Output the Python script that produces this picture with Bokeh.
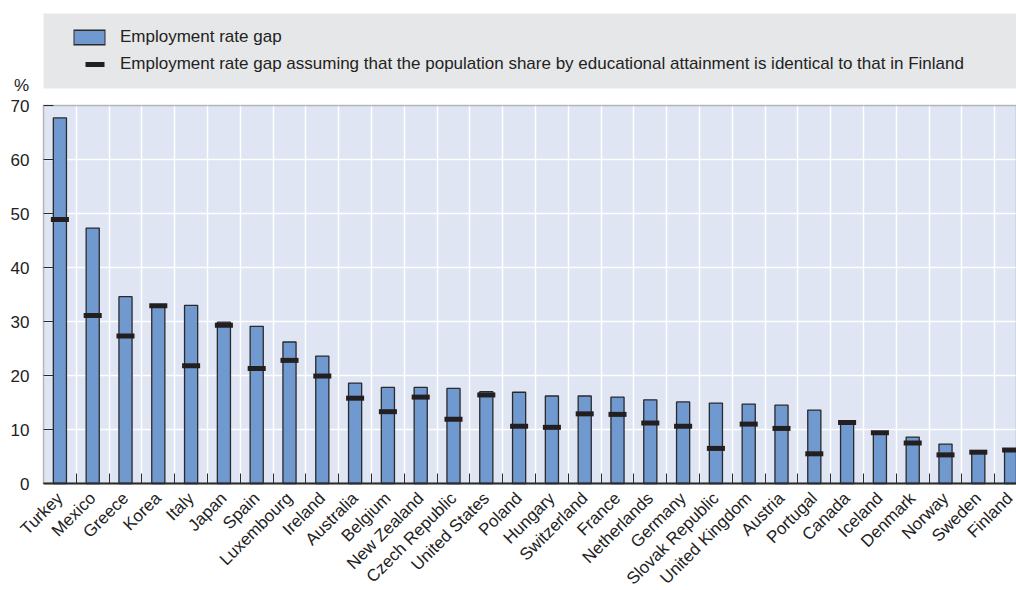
from bokeh.plotting import figure
from bokeh.models import (ColumnDataSource, Range1d, FixedTicker, Legend, LegendItem,
                          Label, BoxAnnotation)
from bokeh.embed import file_html
from bokeh.resources import INLINE
import math

countries = ["Turkey", "Mexico", "Greece", "Korea", "Italy", "Japan", "Spain", "Luxembourg",
             "Ireland", "Australia", "Belgium", "New Zealand", "Czech Republic", "United States",
             "Poland", "Hungary", "Switzerland", "France", "Netherlands", "Germany",
             "Slovak Republic", "United Kingdom", "Austria", "Portugal", "Canada", "Iceland",
             "Denmark", "Norway", "Sweden", "Finland"]
gap = [67.7, 47.3, 34.6, 32.7, 33.0, 29.9, 29.1, 26.2, 23.6, 18.6, 17.8, 17.8, 17.6, 17.0,
       16.9, 16.2, 16.2, 16.0, 15.5, 15.1, 14.9, 14.7, 14.5, 13.6, 11.1, 9.3, 8.6, 7.3, 6.0, 6.2]
gap_finland_structure = [48.9, 31.1, 27.3, 32.9, 21.8, 29.3, 21.3, 22.8, 19.9, 15.8, 13.3, 16.0,
                         11.9, 16.4, 10.6, 10.4, 12.9, 12.8, 11.2, 10.6, 6.5, 11.0, 10.2, 5.5,
                         11.3, 9.4, 7.5, 5.3, 5.8, 6.2]
y_ticks = [0, 10, 20, 30, 40, 50, 60, 70]
label_gap = "Employment rate gap"
label_fin = ("Employment rate gap assuming that the population share by educational "
             "attainment is identical to that in Finland")

FONT = "Liberation Sans"
TXT = "#222222"
DARK = "#2a2a2a"
BAR = "#7099d0"
MARK = "#231f20"
PLOT_BG = "#dfe5f3"
LEG_BG = "#e6e7e8"

n = len(countries)
idx = list(range(n))
src = ColumnDataSource(dict(x=idx, gap=gap, fin=gap_finland_structure, name=countries))

# the frame covers the whole figure; the chart panel starts at x=-0.5, y=0
PX_PER_CAT = 32.8
PX_PER_UNIT = 5.4
x0 = -0.5 - 43 / PX_PER_CAT
x1 = -0.5 + (1016 - 43) / PX_PER_CAT
y0 = -(590 - 483) / PX_PER_UNIT
y1 = 483 / PX_PER_UNIT
p = figure(width=1016, height=590, output_backend="svg", toolbar_location=None,
           x_range=Range1d(x0, x1), y_range=Range1d(y0, y1),
           min_border_left=0, min_border_right=0, min_border_top=0, min_border_bottom=0)
p.background_fill_color = "white"
p.border_fill_color = "white"
p.outline_line_color = None

# plot-area background (drawn beneath the grid)
p.add_layout(BoxAnnotation(left=-0.5, bottom=0, top=70, fill_color=PLOT_BG, fill_alpha=1,
                           line_color=None, level="image"))

bars = p.vbar(x="x", top="gap", width=0.4, source=src, fill_color=BAR,
              line_color=DARK, line_width=1.3)
p.rect(x="x", y="fin", width=0.55, height=5, height_units="screen", source=src,
       fill_color=MARK, line_color=None)

# legend-only proxies (hidden in the plot area)
sw_edge = p.line(x="x", y="gap", source=src, line_color=DARK, line_width=16,
                 line_dash="0 16 32 900", visible=False)
sw_fill = p.line(x="x", y="gap", source=src, line_color=BAR, line_width=13,
                 line_dash="0 17 30 900", visible=False)
mk = p.line(x="x", y="fin", source=src, line_color=MARK, line_width=5,
            line_dash="0 28 19 900", visible=False)

# frame border of the chart panel (left and top edges)
p.add_layout(BoxAnnotation(left=-0.5, bottom=0, top=70, fill_alpha=0, line_color=DARK,
                           line_width=1.5, level="guide"))

# y axis at the panel's left edge
p.yaxis.fixed_location = -0.5
p.yaxis.ticker = FixedTicker(ticks=y_ticks)
p.yaxis.bounds = (0, 70)
p.yaxis.axis_line_color = None
p.yaxis.major_tick_in = 10
p.yaxis.major_tick_out = 0
p.yaxis.major_tick_line_color = DARK
p.yaxis.minor_tick_line_color = None
p.yaxis.major_label_standoff = 14
p.yaxis.major_label_text_font = FONT
p.yaxis.major_label_text_font_size = "17px"
p.yaxis.major_label_text_color = TXT

# x axis at y=0
p.xaxis.fixed_location = 0
p.xaxis.ticker = FixedTicker(ticks=idx, minor_ticks=[i + 0.5 for i in idx[:-1]])
p.xaxis.bounds = (-0.5, n + 1)
p.xaxis.major_label_overrides = {i: c for i, c in zip(idx, countries)}
p.xaxis.major_label_orientation = math.pi / 4
p.xaxis.major_tick_line_color = None
p.xaxis.major_tick_in = 0
p.xaxis.major_tick_out = 0
p.xaxis.minor_tick_in = 10
p.xaxis.minor_tick_out = 0
p.xaxis.minor_tick_line_color = DARK
p.xaxis.axis_line_color = DARK
p.xaxis.axis_line_width = 2
p.xaxis.major_label_standoff = 12
p.xaxis.major_label_text_font = FONT
p.xaxis.major_label_text_font_size = "17px"
p.xaxis.major_label_text_color = TXT

p.ygrid.ticker = FixedTicker(ticks=y_ticks[1:-1])
p.ygrid.grid_line_color = "white"
p.ygrid.grid_line_width = 1.5
p.xgrid.grid_line_color = None
p.xgrid.minor_grid_line_color = "white"
p.xgrid.minor_grid_line_width = 1.5

# legend band
p.add_layout(BoxAnnotation(left=-0.5, top=577, bottom=502, top_units="screen",
                           bottom_units="screen", fill_color=LEG_BG, fill_alpha=1,
                           line_color=None, level="guide"))

legend = Legend(items=[LegendItem(label=label_gap, renderers=[sw_edge, sw_fill]),
                       LegendItem(label=label_fin, renderers=[mk])],
                location=(57, 516), orientation="vertical", margin=0, padding=0,
                spacing=7, glyph_width=60, glyph_height=20, label_height=20,
                label_standoff=3, background_fill_alpha=0, border_line_color=None,
                label_text_font=FONT, label_text_font_size="17px", label_text_color=TXT)
p.add_layout(legend, "center")

# "%" unit label above the y axis
p.add_layout(Label(x=21, y=505, x_units="screen", y_units="screen", text="%",
                   text_align="center", text_baseline="middle", text_font=FONT,
                   text_font_size="17px", text_color=TXT))

open("out.html", "w").write(file_html(p, INLINE))
